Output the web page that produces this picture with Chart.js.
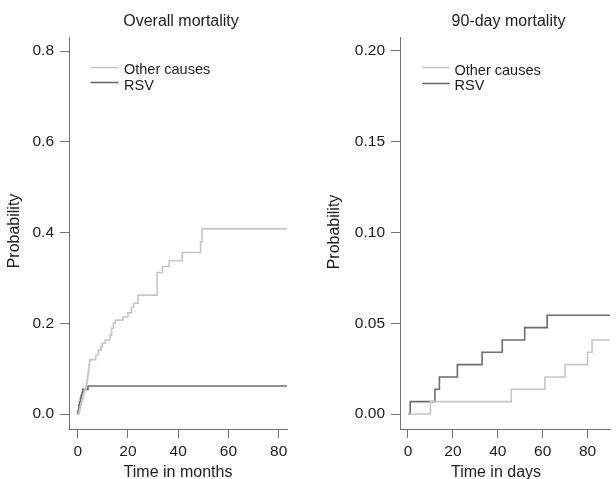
<!DOCTYPE html>
<html><head><meta charset="utf-8">
<script src="https://cdn.jsdelivr.net/npm/chart.js@4.4.1/dist/chart.umd.min.js"></script>
<style>
html,body{margin:0;padding:0;background:#fff;overflow:hidden;width:616px;height:479px}
canvas{position:absolute;top:0}
#c1{left:0}
#c2{left:308px}
</style></head><body>
<canvas id="c1" width="308" height="479"></canvas>
<canvas id="c2" width="308" height="479"></canvas>
<script>
// ---------- data ----------
const seriesNames = ['Other causes', 'RSV'];

// Overall mortality (time in months)
const otherMonths  = [0, 0.6, 0.9, 1.2, 1.5, 1.8, 2.1, 2.4, 2.8, 3.2, 3.5, 3.7, 3.9, 4.1, 4.3, 4.5, 4.7, 4.9, 7.2, 8.2, 9.3, 9.8, 10.9, 12.9, 13.5, 14.2, 14.9, 18.0, 20.0, 21.4, 22.3, 24.0, 31.6, 33.7, 36.4, 41.6, 48.9, 49.5, 83.3];
const otherOverall = [0, 0.007, 0.014, 0.020, 0.027, 0.034, 0.041, 0.048, 0.054, 0.061, 0.068, 0.075, 0.082, 0.089, 0.096, 0.109, 0.116, 0.120, 0.130, 0.141, 0.148, 0.156, 0.163, 0.174, 0.189, 0.200, 0.207, 0.214, 0.223, 0.236, 0.244, 0.262, 0.312, 0.325, 0.338, 0.356, 0.380, 0.408, 0.408];
const rsvMonths    = [0, 0.03, 0.4, 0.46, 0.72, 1.08, 1.38, 1.7, 2.03, 4.1, 83.3];
const rsvOverall   = [0, 0.0068, 0.0136, 0.0204, 0.0272, 0.034, 0.0408, 0.0476, 0.0544, 0.0617, 0.0617];

// 90-day mortality (time in days)
const otherDays = [0, 10, 46, 61, 70, 80, 82, 90];
const other90   = [0, 0.0068, 0.0136, 0.0204, 0.0272, 0.034, 0.0408, 0.0408];
const rsvDays   = [0, 1, 12, 14, 22, 33, 42, 52, 62, 90];
const rsv90     = [0, 0.0068, 0.0136, 0.0204, 0.0272, 0.034, 0.0408, 0.0476, 0.0544, 0.0544];

// ticks
const xTicksMonths = [0, 20, 40, 60, 80];
const xTicksDays   = [0, 20, 40, 60, 80];
const xTickLabelsMonths = ['0', '20', '40', '60', '80'];
const xTickLabelsDays   = ['0', '20', '40', '60', '80'];
const yTicksOverall = [0, 0.2, 0.4, 0.6, 0.8];
const yTickLabelsOverall = ['0.0', '0.2', '0.4', '0.6', '0.8'];
const yTicks90 = [0, 0.05, 0.10, 0.15, 0.20];
const yTickLabels90 = ['0.00', '0.05', '0.10', '0.15', '0.20'];

// texts
const titles = ['Overall mortality', '90-day mortality'];
const xTitles = ['Time in months', 'Time in days'];
const yTitle = 'Probability';

// ---------- style ----------
const FONT = '"Liberation Sans", Arial, Helvetica, sans-serif';
const lightGray = '#c6c6c6';
const darkGray = '#6c6c6c';
const axisGray = '#737373';
const textColor = '#1c1c1c';

const toPts = (xs, ys) => xs.map((x, i) => ({x: x, y: ys[i]}));

const textPlugin = {
  id: 'panelText',
  afterDraw(chart, args, o) {
    const ctx = chart.ctx;
    ctx.save();
    ctx.fillStyle = textColor;
    ctx.font = '16px ' + FONT;
    ctx.textAlign = 'center';
    ctx.textBaseline = 'alphabetic';
    ctx.fillText(o.title, o.titleX, o.titleY);
    ctx.fillText(o.xLabel, o.xLabelX, o.xLabelY);
    ctx.save();
    ctx.translate(o.yLabelX, o.yLabelY);
    ctx.rotate(-Math.PI / 2);
    ctx.fillText(o.yLabel, 0, 0);
    ctx.restore();
    // legend
    ctx.font = '14.5px ' + FONT;
    ctx.textAlign = 'left';
    chart.data.datasets.forEach((ds, i) => {
      const ly = o.legendLineY[i];
      ctx.strokeStyle = ds.borderColor;
      ctx.lineWidth = 1.6;
      ctx.beginPath();
      ctx.moveTo(o.legendX0, ly);
      ctx.lineTo(o.legendX1, ly);
      ctx.stroke();
      ctx.fillStyle = textColor;
      ctx.fillText(ds.label, o.legendTextX, o.legendTextY[i]);
    });
    ctx.restore();
  }
};

function makeChart(id, c) {
  return new Chart(document.getElementById(id), {
    type: 'line',
    data: {
      datasets: [
        {label: seriesNames[0], data: c.other, borderColor: lightGray, stepped: true, clip: false},
        {label: seriesNames[1], data: c.rsv, borderColor: darkGray, stepped: true, clip: false}
      ]
    },
    options: {
      responsive: false,
      animation: false,
      events: [],
      layout: {padding: c.padding},
      elements: {point: {radius: 0}, line: {borderWidth: 1.6, tension: 0, borderCapStyle: 'butt'}},
      plugins: {
        legend: {display: false},
        title: {display: false},
        tooltip: {enabled: false},
        panelText: c.text
      },
      scales: {
        x: {
          type: 'linear', min: c.xMin, max: c.xMax,
          afterBuildTicks: s => { s.ticks = c.xTicks.map(v => ({value: v})); },
          afterFit: s => { s.height = c.xScaleHeight; s.paddingLeft = 0; s.paddingRight = 0; },
          grid: {display: true, drawOnChartArea: false, drawTicks: true, tickLength: 9, color: axisGray, lineWidth: 1},
          border: {display: true, color: axisGray, width: 1},
          ticks: {color: textColor, font: {family: FONT, size: 15.5}, padding: 4, maxRotation: 0, autoSkip: false,
                  callback: (v, i) => c.xLabels[i]}
        },
        y: {
          type: 'linear', min: c.yMin, max: c.yMax,
          afterBuildTicks: s => { s.ticks = c.yTicks.map(v => ({value: v})); },
          afterFit: s => { s.width = c.yScaleWidth; s.paddingTop = 0; s.paddingBottom = 0; },
          grid: {display: true, drawOnChartArea: false, drawTicks: true, tickLength: 9, color: axisGray, lineWidth: 1},
          border: {display: true, color: axisGray, width: 1},
          ticks: {color: textColor, font: {family: FONT, size: 15.5}, padding: 6, autoSkip: false,
                  callback: (v, i) => c.yLabels[i]}
        }
      }
    },
    plugins: [textPlugin]
  });
}

makeChart('c1', {
  other: toPts(otherMonths, otherOverall),
  rsv: toPts(rsvMonths, rsvOverall),
  padding: {top: 37, right: 21, left: 0, bottom: 0},
  xScaleHeight: 50, yScaleWidth: 69,
  xMin: -3.46, xMax: 83.3, yMin: -0.033, yMax: 0.831,
  xTicks: xTicksMonths, xLabels: xTickLabelsMonths,
  yTicks: yTicksOverall, yLabels: yTickLabelsOverall,
  text: {
    title: titles[0], titleX: 181, titleY: 26,
    xLabel: xTitles[0], xLabelX: 178, xLabelY: 477,
    yLabel: yTitle, yLabelX: 19, yLabelY: 231,
    legendX0: 90.5, legendX1: 118.5, legendLineY: [67.5, 82.5],
    legendTextX: 124, legendTextY: [74, 90]
  }
});

makeChart('c2', {
  other: toPts(otherDays, other90),
  rsv: toPts(rsvDays, rsv90),
  padding: {top: 37, right: 6, left: 0, bottom: 0},
  xScaleHeight: 50, yScaleWidth: 92,
  xMin: -3.56, xMax: 90, yMin: -0.00826, yMax: 0.2077,
  xTicks: xTicksDays, xLabels: xTickLabelsDays,
  yTicks: yTicks90, yLabels: yTickLabels90,
  text: {
    title: titles[1], titleX: 200.5, titleY: 26,
    xLabel: xTitles[1], xLabelX: 188, xLabelY: 477,
    yLabel: yTitle, yLabelX: 31, yLabelY: 232,
    legendX0: 114.3, legendX1: 141.7, legendLineY: [67.5, 83.5],
    legendTextX: 146.5, legendTextY: [75, 90]
  }
});
</script>
</body></html>
